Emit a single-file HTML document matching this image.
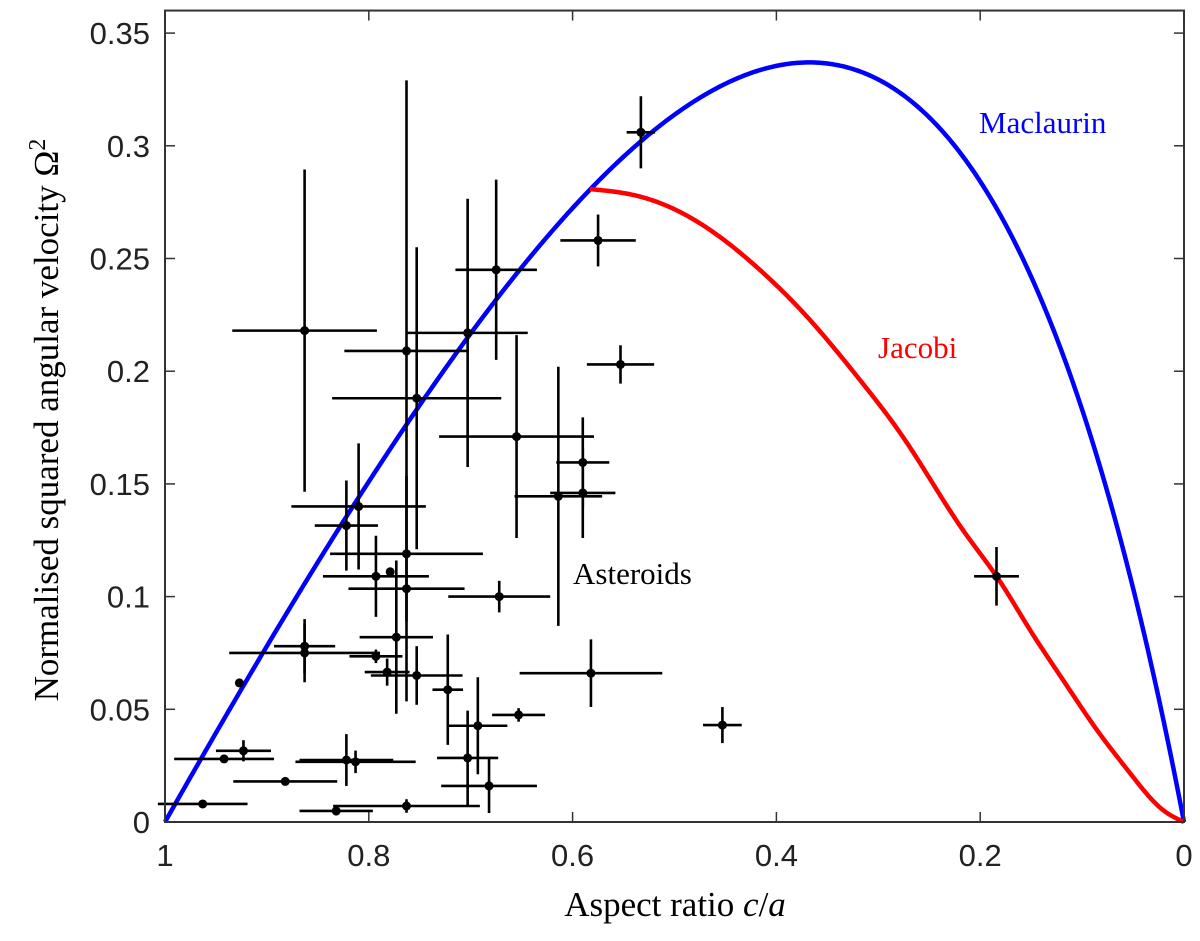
<!DOCTYPE html>
<html><head><meta charset="utf-8"><style>
html,body{margin:0;padding:0;background:#fff;}
svg text{font-family:"Liberation Sans",sans-serif;}
</style></head><body>
<svg id="chart" width="1200" height="936" viewBox="0 0 1200 936" xmlns="http://www.w3.org/2000/svg">
<g id="grid"></g>
<g id="curves"></g>
<g id="points"></g>
<g id="axes"></g>
<text x="979" y="133" font-size="31" fill="#0000ff" style="font-family:'Liberation Serif',serif">Maclaurin</text>
<text x="878" y="358" font-size="31" fill="#ff0000" style="font-family:'Liberation Serif',serif">Jacobi</text>
<text x="573" y="584" font-size="31" fill="#000" style="font-family:'Liberation Serif',serif">Asteroids</text>
<text x="675" y="916" font-size="35" text-anchor="middle" style="font-family:'Liberation Serif',serif">Aspect ratio <tspan font-style="italic">c</tspan>/<tspan font-style="italic">a</tspan></text>
<text transform="translate(58,420) rotate(-90)" font-size="35" text-anchor="middle" style="font-family:'Liberation Serif',serif">Normalised squared angular velocity Ω<tspan dy="-13" font-size="24">2</tspan></text>
</svg>
<script>
const xTicks=[1,0.8,0.6,0.4,0.2,0];
const xTickLabels=["1","0.8","0.6","0.4","0.2","0"];
const yTicks=[0,0.05,0.1,0.15,0.2,0.25,0.3,0.35];
const yTickLabels=["0","0.05","0.1","0.15","0.2","0.25","0.3","0.35"];
// asteroid data: aspect ratio, omega^2, x error, y error
const astX=[0.533,0.575,0.553,0.675,0.703,0.763,0.753,0.863,0.655,0.81,0.822,0.763,0.793,0.779,0.763,0.672,0.863,0.863,0.793,0.773,0.782,0.753,0.7225,0.693,0.653,0.703,0.682,0.822,0.813,0.763,0.832,0.882,0.963,0.923,0.942,0.927,0.614,0.590,0.590,0.582,0.453,0.184];
const astY=[0.306,0.258,0.203,0.245,0.217,0.209,0.188,0.218,0.171,0.140,0.1315,0.119,0.109,0.111,0.1035,0.100,0.078,0.075,0.0735,0.082,0.0665,0.065,0.0587,0.0427,0.0475,0.0284,0.016,0.0275,0.0267,0.0071,0.0049,0.018,0.008,0.0316,0.028,0.0617,0.1445,0.1595,0.146,0.066,0.043,0.109];
const astXErr=[0.014,0.037,0.033,0.04,0.059,0.061,0.083,0.071,0.076,0.066,0.031,0.075,0.052,0,0.057,0.05,0.03,0.074,0.026,0.036,0.022,0.045,0.015,0.029,0.026,0.03,0.047,0.046,0.059,0.072,0.036,0.051,0.044,0.027,0.049,0,0.043,0.026,0.032,0.07,0.019,0.022];
const astYErr=[0.016,0.0115,0.0085,0.04,0.0595,0.12,0.067,0.0715,0.045,0.028,0.02,0.0,0.018,0,0.05,0.007,0.012,0.013,0.003,0.034,0.006,0.013,0.0245,0.0215,0.003,0.021,0.012,0.0115,0.005,0.003,0.002,0,0,0.0047,0,0,0.0575,0.02,0.02,0.015,0.008,0.013];
// Jacobi sequence
const jacX=[0.583,0.5437,0.5142,0.4652,0.4161,0.3670,0.3180,0.2738,0.2169,0.1816,0.1511,0.1187,0.0854,0.0530,0.0206,0];
const jacY=[0.2808,0.2785,0.2746,0.2627,0.2449,0.2227,0.1961,0.1695,0.1295,0.1074,0.0852,0.0630,0.0408,0.0217,0.0053,0];

const X0=165,X1=1184,Y0=822,YPER=2254;
function sx(v){return X0+(1-v)*(X1-X0);}
function sy(v){return Y0-v*YPER;}
const NS="http://www.w3.org/2000/svg";
function mk(tag,parent,attrs){const e=document.createElementNS(NS,tag);for(const k in attrs)e.setAttribute(k,attrs[k]);parent.appendChild(e);return e;}

const axes=document.getElementById('axes');
const box=mk('rect',axes,{x:X0,y:sy(0.36),width:X1-X0,height:Y0-sy(0.36),fill:'none',stroke:'#333',"stroke-width":2});


xTicks.forEach((t,i)=>{
  const x=sx(t);
  const a=mk('line',axes,{x1:x,y1:Y0,x2:x,y2:Y0-10,stroke:'#333',"stroke-width":1.5});
  
  
  const b=mk('line',axes,{x1:x,y1:sy(0.36),x2:x,y2:sy(0.36)+10,stroke:'#333',"stroke-width":1.5});
  
  
  const tx=mk('text',axes,{x:x,y:Y0+44,"font-size":31,"text-anchor":"middle",fill:'#222'});
  tx.textContent=xTickLabels[i];
  
  
});
yTicks.forEach((t,i)=>{
  const y=sy(t);
  const a=mk('line',axes,{x1:X0,y1:y,x2:X0+10,y2:y,stroke:'#333',"stroke-width":1.5});
  
  
  const b=mk('line',axes,{x1:X1,y1:y,x2:X1-10,y2:y,stroke:'#333',"stroke-width":1.5});
  
  
  const tx=mk('text',axes,{x:X0-15,y:y+11,"font-size":31,"text-anchor":"end",fill:'#222'});
  tx.textContent=yTickLabels[i];
  
  
});

const curves=document.getElementById('curves');
// Maclaurin spheroid sequence (theoretical), normalised by 4πGρ/3
let mp=[];
for(let i=0;i<=400;i++){
  const q=1-i/400;
  let w;
  if(q>=0.9999){w=0;}else if(q<=0){w=0;}else{
    const e=Math.sqrt(1-q*q);
    w=0.75*(2*q*(3-2*e*e)*Math.asin(e)/Math.pow(e,3)-6*(1-e*e)/(e*e));
  }
  mp.push(sx(q).toFixed(2)+','+sy(w).toFixed(2));
}
const mac=mk('polyline',curves,{points:mp.join(' '),fill:'none',stroke:'#0000ff',"stroke-width":4.5});



// Jacobi: natural cubic spline through data points (x ascending)
(function(){
  const n=jacX.length;
  const xs=[],ys=[];
  for(let i=n-1;i>=0;i--){xs.push(jacX[i]);ys.push(jacY[i]);}
  const h=[],al=[],l=[1],mu=[0],z=[0];
  for(let i=0;i<n-1;i++)h.push(xs[i+1]-xs[i]);
  for(let i=1;i<n-1;i++)al[i]=3/h[i]*(ys[i+1]-ys[i])-3/h[i-1]*(ys[i]-ys[i-1]);
  for(let i=1;i<n-1;i++){l[i]=2*(xs[i+1]-xs[i-1])-h[i-1]*mu[i-1];mu[i]=h[i]/l[i];z[i]=(al[i]-h[i-1]*z[i-1])/l[i];}
  const c=new Array(n).fill(0),b=[],dd=[];
  for(let j=n-2;j>=0;j--){c[j]=z[j]-mu[j]*c[j+1];b[j]=(ys[j+1]-ys[j])/h[j]-h[j]*(c[j+1]+2*c[j])/3;dd[j]=(c[j+1]-c[j])/(3*h[j]);}
  const out=[];
  for(let j=0;j<n-1;j++){
    for(let k=0;k<20;k++){
      const t=h[j]*k/20;
      const y=ys[j]+b[j]*t+c[j]*t*t+dd[j]*t*t*t;
      out.push(sx(xs[j]+t).toFixed(2)+','+sy(y).toFixed(2));
    }
  }
  out.push(sx(xs[n-1]).toFixed(2)+','+sy(ys[n-1]).toFixed(2));
  const jac=mk('polyline',curves,{points:out.join(' '),fill:'none',stroke:'#ff0000',"stroke-width":4.5});
  
  
})();

const pg=document.getElementById('points');
astX.forEach((v,i)=>{
  const g=mk('g',pg,{});
  
  
  const cx=sx(v),cy=sy(astY[i]);
  if(astXErr[i]>0)mk('line',g,{x1:sx(v-astXErr[i]),y1:cy,x2:sx(v+astXErr[i]),y2:cy,stroke:'#000',"stroke-width":2.6});
  if(astYErr[i]>0)mk('line',g,{x1:cx,y1:sy(astY[i]-astYErr[i]),x2:cx,y2:sy(astY[i]+astYErr[i]),stroke:'#000',"stroke-width":2.6});
  mk('circle',g,{cx:cx,cy:cy,r:4.5,fill:'#000'});
});
</script>
</body></html>
